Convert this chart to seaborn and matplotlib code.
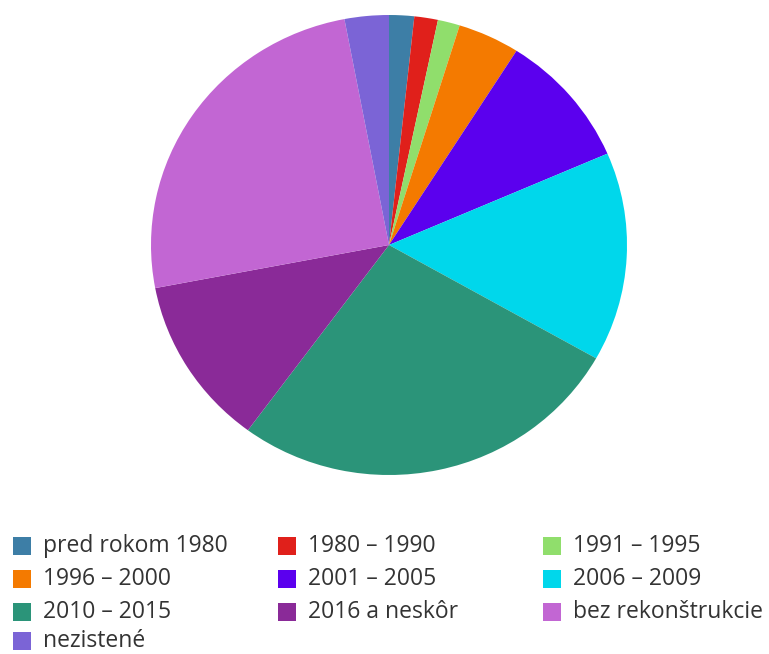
import matplotlib
matplotlib.use("Agg")
import matplotlib.pyplot as plt
from matplotlib.patches import Rectangle
import seaborn as sns

# Share of buildings by year of last renovation (%)
categories = ["pred rokom 1980", "1980 – 1990", "1991 – 1995", "1996 – 2000",
              "2001 – 2005", "2006 – 2009", "2010 – 2015", "2016 a neskôr",
              "bez rekonštrukcie", "nezistené"]
shares = [1.7, 1.6, 1.5, 4.2, 9.5, 14.7, 26.9, 11.9, 25.0, 3.0]
colors = ["#3d7ea6", "#e0201b", "#90de6c", "#f47a00", "#5b00ee",
          "#00d7eb", "#2b9479", "#8a2a98", "#c266d3", "#7b64d6"]

sns.set_theme(style="white")
plt.rcParams["font.family"] = ["Open Sans", "DejaVu Sans"]
palette = sns.color_palette(colors)

W, H = 769, 654
fig = plt.figure(figsize=(W / 100, H / 100), dpi=100)

# pie area (pixel geometry converted to figure fractions)
cx, cy, rx, ry = 389, 245, 238, 230
ax = fig.add_axes([(cx - rx) / W, (H - cy - ry) / H, 2 * rx / W, 2 * ry / H])
ax.pie(shares, colors=palette, startangle=90, counterclock=False,
       radius=1.0, wedgeprops=dict(linewidth=0))
ax.set_xlim(-1, 1)
ax.set_ylim(-1, 1)
ax.set_aspect("auto")
ax.axis("off")

# legend: three columns, row-major order
col_x = [13, 278, 543]
row_y = [546, 579, 612, 641]
sq = 18
for i, (label, c) in enumerate(zip(categories, palette)):
    r, k = divmod(i, 3)
    x, y = col_x[k], row_y[r]
    fig.patches.append(Rectangle((x / W, (H - y - sq / 2) / H), sq / W, sq / H,
                                 transform=fig.transFigure, facecolor=c,
                                 edgecolor="none"))
    fig.text((x + 30) / W, (H - y) / H, label, fontsize=16.5,
             color="#333333", va="center", ha="left")

fig.savefig("out.png", dpi=100, facecolor="white")
